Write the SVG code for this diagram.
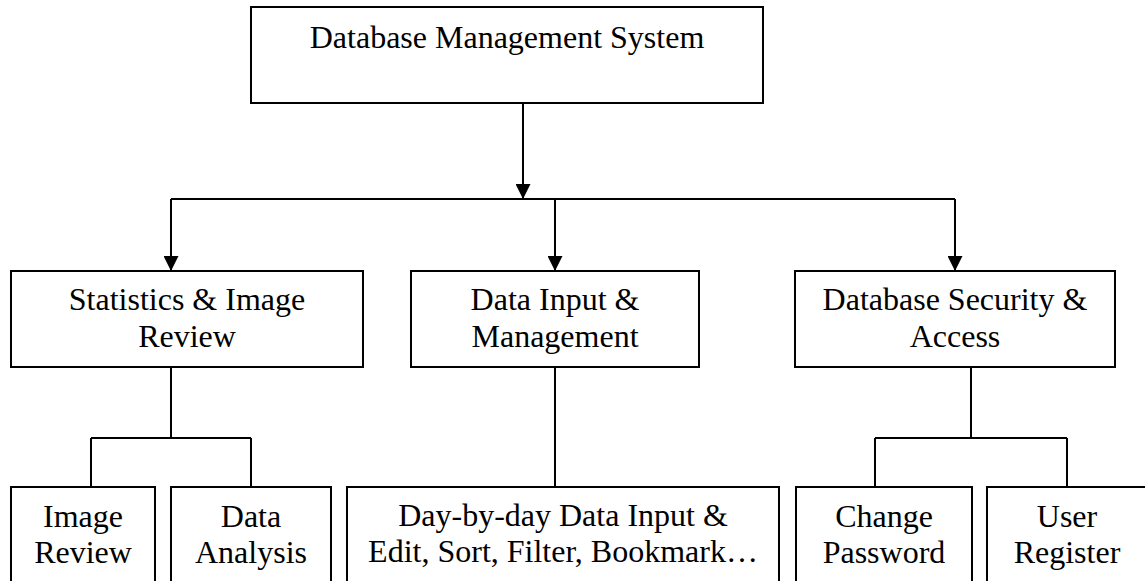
<svg xmlns="http://www.w3.org/2000/svg" width="1145" height="581" viewBox="0 0 1145 581">
<style>
.box{fill:#fff;stroke:#000;stroke-width:2}
.t{font-family:"Liberation Serif","Times New Roman",serif;font-size:32px;fill:#000;text-anchor:middle}
.c{fill:none;stroke:#000;stroke-width:2}
.a{marker-end:url(#ah)}
</style>
<defs>
<marker id="ah" markerWidth="15" markerHeight="15" refX="15" refY="7.5" orient="auto" markerUnits="userSpaceOnUse">
<path d="M0,0 L15,7.5 L0,15 Z" fill="#000"/>
</marker>
</defs>
<rect width="1145" height="581" fill="#fff"/>
<g id="connectors">
<path class="c a" d="M523,103 V199"/>
<path class="c" d="M171,199 H955"/>
<path class="c a" d="M171,199 V271"/>
<path class="c a" d="M555,199 V271"/>
<path class="c a" d="M955,199 V271"/>
<path class="c" d="M171,367 V438 M91,438 H251 M91,438 V487 M251,438 V487"/>
<path class="c" d="M555,367 V487"/>
<path class="c" d="M971,367 V438 M875,438 H1067 M875,438 V487 M1067,438 V487"/>
</g>
<g id="dbms">
<rect class="box" x="251" y="7" width="512" height="96"/>
<text class="t" x="507" y="48">Database Management System</text>
</g>
<g id="stats">
<rect class="box" x="11" y="271" width="352" height="96"/>
<text class="t" x="187" y="310">Statistics &amp; Image</text>
<text class="t" x="187" y="347">Review</text>
</g>
<g id="datainput">
<rect class="box" x="411" y="271" width="288" height="96"/>
<text class="t" x="555" y="310">Data Input &amp;</text>
<text class="t" x="555" y="347">Management</text>
</g>
<g id="security">
<rect class="box" x="795" y="271" width="320" height="96"/>
<text class="t" x="955" y="310">Database Security &amp;</text>
<text class="t" x="955" y="347">Access</text>
</g>
<g id="imagereview">
<rect class="box" x="11" y="487" width="144" height="120"/>
<text class="t" x="83" y="527">Image</text>
<text class="t" x="83" y="563">Review</text>
</g>
<g id="dataanalysis">
<rect class="box" x="171" y="487" width="160" height="120"/>
<text class="t" x="251" y="527">Data</text>
<text class="t" x="251" y="563">Analysis</text>
</g>
<g id="daybyday">
<rect class="box" x="347" y="487" width="432" height="120"/>
<text class="t" x="563" y="526">Day-by-day Data Input &amp;</text>
<text class="t" x="563" y="562">Edit, Sort, Filter, Bookmark…</text>
</g>
<g id="changepassword">
<rect class="box" x="796" y="487" width="176" height="120"/>
<text class="t" x="884" y="527">Change</text>
<text class="t" x="884" y="563">Password</text>
</g>
<g id="userregister">
<rect class="box" x="987" y="487" width="170" height="120"/>
<text class="t" x="1067" y="527">User</text>
<text class="t" x="1067" y="563">Register</text>
</g>
</svg>
